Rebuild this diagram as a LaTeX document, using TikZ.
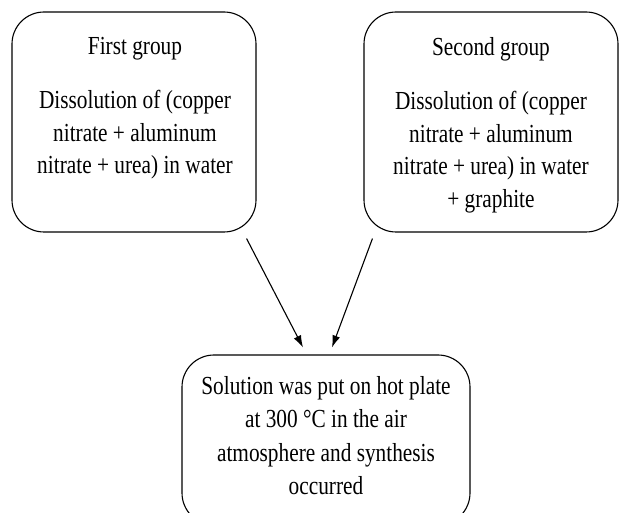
\documentclass[tikz,border=0pt]{standalone}
\usepackage{fontspec}
\setmainfont{Liberation Serif}
\newfontfamily\tallserif[FakeStretch=0.82]{Liberation Serif}
\usetikzlibrary{arrows.meta}
\tikzset{
  box/.style={draw, line width=1.1pt, rounded corners=32pt, inner sep=0pt},
  txt/.style={align=center, inner sep=0pt, font={\tallserif\fontsize{26}{32.5}\selectfont}},
  txtb/.style={align=center, inner sep=0pt, font={\tallserif\fontsize{26}{33.5}\selectfont}},
  arr/.style={line width=1.1pt, -{Latex[length=12pt,width=8pt]}}
}
\begin{document}
\begin{tikzpicture}[x=1pt,y=-1pt]
\useasboundingbox (0,0) rectangle (619,513);
\clip (0,0) rectangle (619,513);
\node[box, minimum width=244pt, minimum height=220pt] (b1) at (134,122) {};
\node[box, minimum width=254pt, minimum height=220pt] (b2) at (491,122) {};
\node[box, minimum width=288pt, minimum height=170pt] (b3) at (326,440) {};
\node[txt, anchor=north] (t1) at (135,37) {First group\\[22pt]Dissolution of (copper\\nitrate + aluminum\\nitrate + urea) in water};
\node[txt, anchor=north] (t2) at (491,37) {Second group\\[22pt]Dissolution of (copper\\nitrate + aluminum\\nitrate + urea) in water\\+ graphite};
\node[txtb, anchor=north] (t3) at (326,376) {Solution was put on hot plate\\at 300 °C in the air\\atmosphere and synthesis\\occurred};
\draw[arr] ([shift={(-10,6)}]b1.south east) -- ([shift={(-23,-7)}]b3.north);
\draw[arr] ([shift={(9,6)}]b2.south west) -- ([shift={(6,-7)}]b3.north);
\end{tikzpicture}
\end{document}
